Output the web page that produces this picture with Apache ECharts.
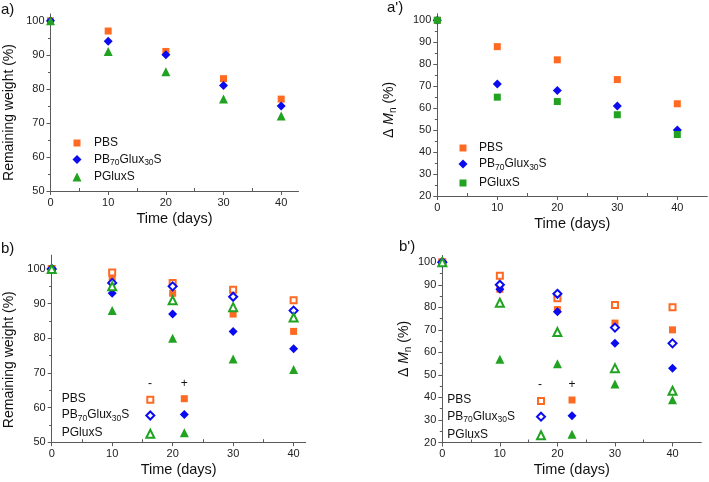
<!DOCTYPE html>
<html><head><meta charset="utf-8">
<script src="https://cdn.jsdelivr.net/npm/echarts@6/dist/echarts.min.js"></script>
<style>html,body{margin:0;padding:0;background:#fff}#c{width:709px;height:482px}</style>
</head><body><div id="c"></div>
<script>
// ---- data ----
const days = [0, 10, 20, 30, 40];
// a) remaining weight
const aPBS   = [100, 97, 91, 83, 77];
const aPB70  = [100, 94, 90, 81, 75];
const aPGlux = [100, 91, 85, 77, 72];
// a') delta Mn
const apPBS   = [100, 88, 82, 73, 62];
const apPB70  = [100, 71, 68, 61, 50];
const apPGlux = [100, 65, 63, 57, 48];
// b) remaining weight, open (-) / filled (+)
const bPBSOpen   = [100, 99, 96, 94, 91];
const bPBSFill   = [100, 97, 93, 87, 82];
const bPB70Open  = [100, 96, 95, 92, 88];
const bPB70Fill  = [100, 93, 87, 82, 77];
const bPGluxOpen = [100, 95, 91, 89, 86];
const bPGluxFill = [100, 88, 80, 74, 71];
// b') delta Mn, open (-) / filled (+)
const bpPBSOpen   = [100, 94, 84, 81, 80];
const bpPBSFill   = [100, 88, 79, 73, 70];
const bpPB70Open  = [100, 90, 86, 71, 64];
const bpPB70Fill  = [100, 88, 78, 64, 53];
const bpPGluxOpen = [100, 82, 69, 53, 43];
const bpPGluxFill = [100, 57, 55, 46, 39];
// ticks
const xTicks = [0, 10, 20, 30, 40];
const xMinor = [5, 15, 25, 35];
const yTicksW = [50, 60, 70, 80, 90, 100];
const yMinorW = [55, 65, 75, 85, 95];
const yTicksM = [20, 30, 40, 50, 60, 70, 80, 90, 100];
const yMinorM = [25, 35, 45, 55, 65, 75, 85, 95];
const legendNames = ['PBS', 'PB70Glux30S', 'PGluxS'];
const panelLabels = ['a)', "a')", 'b)', "b')"];

// ---- styles ----
const FONT = 'Liberation Sans, Arial, sans-serif';
const C_OR = '#FF6A22', C_BL = '#0B0BF0', C_GR = '#21A321';
const SUB = { fontSize: 8.5, lineHeight: 9, padding: [7, 0, 0, 0], fontFamily: FONT, color: '#111' };
function fmtName(n) {
  return n === 'PB70Glux30S' ? 'PB{sub|70}Glux{sub|30}S' : n;
}
const geo = [
  { left: 50.5, top: 14, width: 248, height: 177, xMax: 43, yMin: 50, yMax: 102, yT: yTicksW, yM: yMinorW, yName: 'Remaining weight (%)', yGap: 34, yPad: [0, 20, 0, 0] },
  { left: 437.3, top: 13.7, width: 270, height: 182.3, xMax: 45, yMin: 20, yMax: 103, yT: yTicksM, yM: yMinorM, yName: 'Δ {it|M}{s|n} (%)', yGap: 40, yPad: [0, 10, 0, 0] },
  { left: 51.7, top: 255.2, width: 254, height: 187, xMax: 42, yMin: 50, yMax: 104, yT: yTicksW, yM: yMinorW, yName: 'Remaining weight (%)', yGap: 36, yPad: [0, 22, 0, 0] },
  { left: 442.3, top: 255.5, width: 259, height: 187, xMax: 45, yMin: 20, yMax: 103, yT: yTicksM, yM: yMinorM, yName: 'Δ {it|M}{s|n} (%)', yGap: 30, yPad: [0, 0, 0, 0] }
];
const AX = '#5a5a5a';
const grid = [], xAxis = [], yAxis = [];
geo.forEach(g => grid.push({ left: g.left, top: g.top, width: g.width, height: g.height }));
geo.forEach(g => grid.push({ left: g.left, top: g.top, width: g.width, height: g.height }));
geo.forEach((g, i) => {
  xAxis.push({
    type: 'value', gridIndex: i, min: 0, max: g.xMax,
    axisLine: { show: true, onZero: false, lineStyle: { color: AX, width: 1 } },
    axisTick: { show: true, customValues: xTicks, length: 4, lineStyle: { color: AX } },
    axisLabel: { customValues: xTicks, margin: 6, fontSize: 11, color: '#222', fontFamily: FONT },
    splitLine: { show: false },
    name: 'Time (days)', nameLocation: 'middle', nameGap: 20,
    nameTextStyle: { fontSize: 14.5, color: '#111', fontFamily: FONT }
  });
  yAxis.push({
    type: 'value', gridIndex: i, min: g.yMin, max: g.yMax,
    axisLine: { show: true, onZero: false, lineStyle: { color: AX, width: 1 } },
    axisTick: { show: true, customValues: g.yT, length: 4, lineStyle: { color: AX } },
    axisLabel: { customValues: g.yT, margin: 6, fontSize: 11, color: '#222', fontFamily: FONT },
    splitLine: { show: false },
    name: g.yName, nameLocation: 'middle', nameGap: g.yGap,
    nameTextStyle: {
      fontSize: 14, color: '#111', fontFamily: FONT, padding: g.yPad,
      rich: {
        it: { fontSize: 14, fontStyle: 'italic', fontFamily: FONT, color: '#111', lineHeight: 16 },
        s: { fontSize: 10, lineHeight: 10, padding: [8, 0, 0, 0], fontFamily: FONT, color: '#111' }
      }
    }
  });
});
geo.forEach((g, i) => {
  xAxis.push({
    type: 'value', gridIndex: i + 4, min: 0, max: g.xMax,
    axisLine: { show: false },
    axisTick: { show: true, inside: true, customValues: xMinor, length: 3, lineStyle: { color: AX } },
    axisLabel: { show: false }, splitLine: { show: false }
  });
  yAxis.push({
    type: 'value', gridIndex: i + 4, min: g.yMin, max: g.yMax,
    axisLine: { show: false },
    axisTick: { show: true, customValues: g.yM, length: 2.5, lineStyle: { color: AX } },
    axisLabel: { show: false }, splitLine: { show: false }
  });
});

const SIZE = { rect: 7, diamond: 9, triangle: 9, emptyRect: 6, emptyDiamond: 8, emptyTriangle: 8 };
const BW = 1.1;
function sc(name, idx, vals, symbol, color) {
  return {
    type: 'scatter', name, xAxisIndex: idx, yAxisIndex: idx,
    data: days.map((d, k) => [d, vals[k]]),
    symbol, symbolSize: SIZE[symbol],
    itemStyle: { color, borderColor: color, borderWidth: symbol.startsWith('empty') ? BW : 0, opacity: 1 },
    emphasis: { disabled: true }
  };
}
const series = [
  sc('a:PBS', 0, aPBS, 'rect', C_OR),
  sc('a:PB70Glux30S', 0, aPB70, 'diamond', C_BL),
  sc('a:PGluxS', 0, aPGlux, 'triangle', C_GR),
  sc('ap:PBS', 1, apPBS, 'rect', C_OR),
  sc('ap:PB70Glux30S', 1, apPB70, 'diamond', C_BL),
  sc('ap:PGluxS', 1, apPGlux, 'rect', C_GR),
  sc('b:PBS+', 2, bPBSFill, 'rect', C_OR),
  sc('b:PBS-', 2, bPBSOpen, 'emptyRect', C_OR),
  sc('b:PB70Glux30S+', 2, bPB70Fill, 'diamond', C_BL),
  sc('b:PB70Glux30S-', 2, bPB70Open, 'emptyDiamond', C_BL),
  sc('b:PGluxS+', 2, bPGluxFill, 'triangle', C_GR),
  sc('b:PGluxS-', 2, bPGluxOpen, 'emptyTriangle', C_GR),
  sc('bp:PBS+', 3, bpPBSFill, 'rect', C_OR),
  sc('bp:PBS-', 3, bpPBSOpen, 'emptyRect', C_OR),
  sc('bp:PB70Glux30S+', 3, bpPB70Fill, 'diamond', C_BL),
  sc('bp:PB70Glux30S-', 3, bpPB70Open, 'emptyDiamond', C_BL),
  sc('bp:PGluxS+', 3, bpPGluxFill, 'triangle', C_GR),
  sc('bp:PGluxS-', 3, bpPGluxOpen, 'emptyTriangle', C_GR)
];
const symOf = {};
series.forEach(s => { symOf[s.name] = s.symbol; });

// one legend component per entry, so each icon keeps its own size
function legItem(name, cx, cy, textX) {
  const sym = symOf[name];
  const empty = sym.startsWith('empty');
  const w = SIZE[sym];
  const base = {
    data: [name], left: cx - w / 2, padding: 0, itemWidth: w, itemHeight: w, selectedMode: false,
    itemStyle: { borderWidth: empty ? BW : 0 }
  };
  if (textX != null) {
    return Object.assign(base, {
      top: cy - 8,
      formatter: n => fmtName(n.split(':')[1]),
      textStyle: { fontSize: 12, lineHeight: 16, color: '#111', fontFamily: FONT, padding: [0, 0, 0, textX - (cx + w / 2) - 5], rich: { sub: SUB } }
    });
  }
  return Object.assign(base, { top: cy - w / 2, formatter: () => '', textStyle: { fontSize: 1, lineHeight: 1 } });
}
const legend = [];
[143, 159.5, 177].forEach((y, k) => legend.push(legItem('a:' + legendNames[k], 77, y, 94)));
[148, 164, 183].forEach((y, k) => legend.push(legItem('ap:' + legendNames[k], 463, y, 479)));
[398.7, 414.5, 432.7].forEach((y, k) => {
  legend.push(legItem('b:' + legendNames[k] + '-', 149.3, y));
  legend.push(legItem('b:' + legendNames[k] + '+', 184.3, y));
});
[400, 415.7, 434.3].forEach((y, k) => {
  legend.push(legItem('bp:' + legendNames[k] + '-', 540, y));
  legend.push(legItem('bp:' + legendNames[k] + '+', 572, y));
});

const title = [
  { text: panelLabels[0], left: 1, top: 2 },
  { text: panelLabels[1], left: 387, top: 0 },
  { text: panelLabels[2], left: 1, top: 241 },
  { text: panelLabels[3], left: 399, top: 239 }
].map(t => Object.assign(t, { padding: 0, textStyle: { fontSize: 15, fontWeight: 'normal', color: '#111', fontFamily: FONT } }));

function legText(x, ys) {
  return legendNames.map((n, k) => ({
    type: 'text', x, y: ys[k],
    style: { text: fmtName(n), fontSize: 12, fontFamily: FONT, fill: '#111', verticalAlign: 'middle', lineHeight: 16, rich: { sub: SUB } }
  }));
}
function hdr(x, y, t) {
  return { type: 'text', x, y, style: { text: t, fontSize: 12, fontFamily: FONT, fill: '#111', align: 'center', verticalAlign: 'middle' } };
}
const graphic = [].concat(
  legText(61.7, [398.7, 415, 433]),
  legText(447.3, [400, 416.5, 434.5]),
  [hdr(150, 384, '-'), hdr(184.3, 384, '+'), hdr(540, 385, '-'), hdr(572, 385, '+')]
);

const chart = echarts.init(document.getElementById('c'), null, { renderer: 'canvas' });
chart.setOption({
  animation: false, backgroundColor: '#fff',
  textStyle: { fontFamily: FONT },
  title, grid, xAxis, yAxis, legend, series, graphic
});
</script>
</body></html>
